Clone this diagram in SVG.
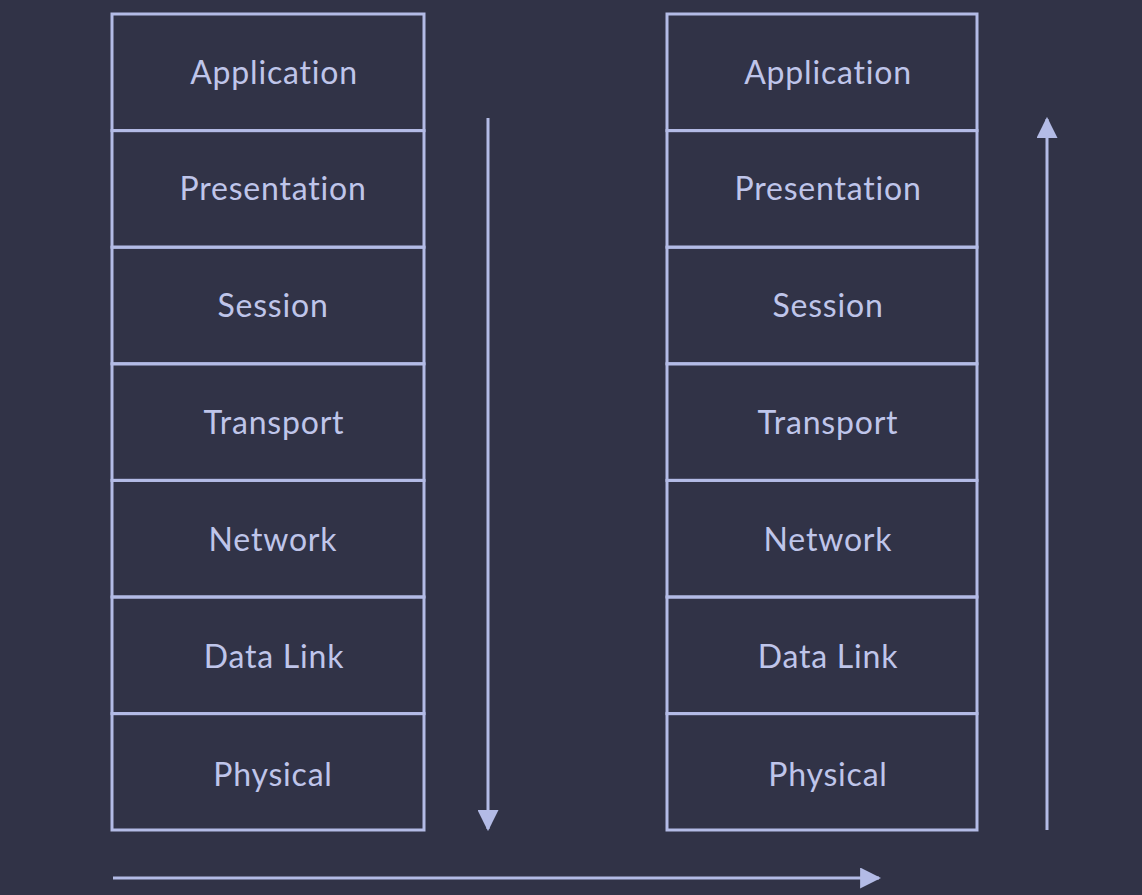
<svg xmlns="http://www.w3.org/2000/svg" width="1142" height="895" viewBox="0 0 1142 895">
<style>
.box{fill:none;stroke:#b3bbe6;stroke-width:3}
.lbl{font-family:Lato,"Open Sans",sans-serif;font-size:32px;letter-spacing:0.8px;fill:#bfc5ea;text-anchor:middle}
.ln{stroke:#b3bbe6;stroke-width:3;fill:none}
</style>
<defs>
<marker id="ah" viewBox="0 0 10 10" refX="9" refY="5" markerWidth="7" markerHeight="7" orient="auto" markerUnits="strokeWidth">
<path d="M0,0 L10,5 L0,10 z" fill="#b3bbe6"/>
</marker>
</defs>
<rect width="1142" height="895" fill="#313347"/>
<g id="left-stack">
<g id="l-app"><rect class="box" x="112" y="14" width="312" height="116.6"/><text class="lbl" x="274" y="84">Application</text></g>
<g id="l-pres"><rect class="box" x="112" y="130.6" width="312" height="116.6"/><text class="lbl" x="273" y="200">Presentation</text></g>
<g id="l-sess"><rect class="box" x="112" y="247.2" width="312" height="116.6"/><text class="lbl" x="273" y="317">Session</text></g>
<g id="l-trans"><rect class="box" x="112" y="363.8" width="312" height="116.6"/><text class="lbl" x="274" y="434">Transport</text></g>
<g id="l-net"><rect class="box" x="112" y="480.4" width="312" height="116.6"/><text class="lbl" x="273" y="551">Network</text></g>
<g id="l-dl"><rect class="box" x="112" y="597" width="312" height="116.6"/><text class="lbl" x="274" y="668">Data Link</text></g>
<g id="l-phys"><rect class="box" x="112" y="713.6" width="312" height="116.4"/><text class="lbl" x="273" y="786">Physical</text></g>
</g>
<g id="right-stack">
<g id="r-app"><rect class="box" x="667" y="14" width="310" height="116.6"/><text class="lbl" x="828" y="84">Application</text></g>
<g id="r-pres"><rect class="box" x="667" y="130.6" width="310" height="116.6"/><text class="lbl" x="828" y="200">Presentation</text></g>
<g id="r-sess"><rect class="box" x="667" y="247.2" width="310" height="116.6"/><text class="lbl" x="828" y="317">Session</text></g>
<g id="r-trans"><rect class="box" x="667" y="363.8" width="310" height="116.6"/><text class="lbl" x="828" y="434">Transport</text></g>
<g id="r-net"><rect class="box" x="667" y="480.4" width="310" height="116.6"/><text class="lbl" x="828" y="551">Network</text></g>
<g id="r-dl"><rect class="box" x="667" y="597" width="310" height="116.6"/><text class="lbl" x="828" y="668">Data Link</text></g>
<g id="r-phys"><rect class="box" x="667" y="713.6" width="310" height="116.4"/><text class="lbl" x="828" y="786">Physical</text></g>
</g>
<g id="connectors">
<line class="ln" x1="488" y1="118" x2="488" y2="829" marker-end="url(#ah)"/>
<line class="ln" x1="1047" y1="830" x2="1047" y2="119" marker-end="url(#ah)"/>
<line class="ln" x1="113" y1="878" x2="879" y2="878" marker-end="url(#ah)"/>
</g>
</svg>
